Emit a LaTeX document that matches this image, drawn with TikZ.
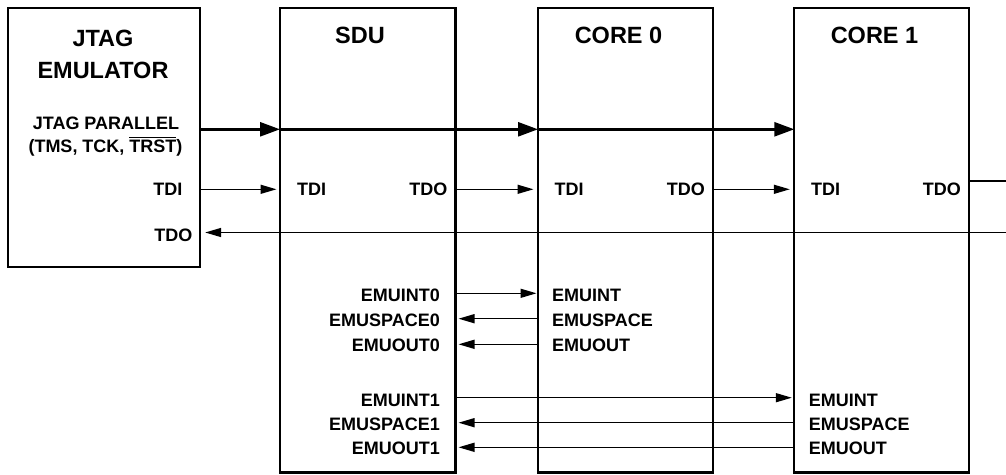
\documentclass[tikz,border=0pt]{standalone}
\usepackage{fontspec}
\setmainfont{Liberation Sans}
\usetikzlibrary{arrows.meta}
\newcommand\myov[1]{\setbox0\hbox{#1}\rlap{\raise\dimexpr\ht0+1.6pt\relax\hbox{\vrule width\wd0 height 1.3pt depth 0pt}}\box0}
\begin{document}
\begin{tikzpicture}[x=1pt,y=-1pt,
  box/.style={draw, line width=2.2pt, rectangle, outer sep=0pt, inner sep=0pt},
  lbl/.style={inner sep=0pt, font=\bfseries\fontsize{18}{21}\selectfont},
  ttl/.style={inner sep=0pt, font=\bfseries\fontsize{23.5}{28}\selectfont},
  sig/.style={line width=1.4pt, -{Triangle[length=16pt,width=9pt]}},
  par/.style={line width=2.6pt, -{Triangle[length=20pt,width=14pt]}},
  wire/.style={line width=1.4pt}]
\useasboundingbox (0,0) rectangle (1006,474);
% boxes
\node[box, minimum width=192pt, minimum height=258.4pt] (jtag) at (104.15,137.5) {};
\node[box, minimum width=175.5pt, minimum height=464.2pt] (sdu) at (367.75,240.4) {};
\node[box, minimum width=174.7pt, minimum height=464.2pt] (core0) at (625.35,240.4) {};
\node[box, minimum width=174.7pt, minimum height=464.2pt] (core1) at (881.65,240.4) {};
% levels
\coordinate (yPar) at (0,129.3);
\coordinate (yTdi) at (0,189.3);
\coordinate (yTdo1) at (0,181);
\coordinate (yBack) at (0,232.5);
\coordinate (yE0) at (0,293.3);
\coordinate (yS0) at (0,318.7);
\coordinate (yO0) at (0,344.3);
\coordinate (yE1) at (0,397.7);
\coordinate (yS1) at (0,422.7);
\coordinate (yO1) at (0,447.3);
\coordinate (rEdge) at (1006,0);
% titles
\node[ttl, anchor=base] (tJ1) at (103,46.7) {JTAG};
\node[ttl, anchor=base] (tJ2) at (103,78.3) {EMULATOR};
\node[ttl, anchor=base] (tS) at (360,43.3) {SDU};
\node[ttl, anchor=base] (tC0) at (618.5,43.3) {CORE 0};
\node[ttl, anchor=base] (tC1) at (874.5,43.3) {CORE 1};
% jtag labels
\node[lbl, anchor=base] (lp1) at (106,129.5) {JTAG PARALLEL};
\node[lbl, anchor=base] (lp2) at (105.5,152) {(TMS, TCK, \myov{TRST})};
\node[lbl, anchor=base east] (jtdi) at (182.5,195.5) {TDI};
\node[lbl, anchor=base east] (jtdo) at (192.5,241.7) {TDO};
\node[lbl, anchor=base west] (stdi) at (297,195.5) {TDI};
\node[lbl, anchor=base east] (stdo) at (447.5,195.5) {TDO};
\node[lbl, anchor=base west] (c0tdi) at (554.5,195.5) {TDI};
\node[lbl, anchor=base east] (c0tdo) at (705,195.5) {TDO};
\node[lbl, anchor=base west] (c1tdi) at (811,195.5) {TDI};
\node[lbl, anchor=base east] (c1tdo) at (961,195.5) {TDO};
% sdu emu labels
\node[lbl, anchor=base east] (se0) at (440,301) {EMUINT0};
\node[lbl, anchor=base east] (ss0) at (440,326) {EMUSPACE0};
\node[lbl, anchor=base east] (so0) at (440,351.3) {EMUOUT0};
\node[lbl, anchor=base east] (se1) at (440,406) {EMUINT1};
\node[lbl, anchor=base east] (ss1) at (440,430.3) {EMUSPACE1};
\node[lbl, anchor=base east] (so1) at (440,454) {EMUOUT1};
% core labels
\node[lbl, anchor=base west] (c0e) at (552,301) {EMUINT};
\node[lbl, anchor=base west] (c0s) at (552,326) {EMUSPACE};
\node[lbl, anchor=base west] (c0o) at (552,351.3) {EMUOUT};
\node[lbl, anchor=base west] (c1e) at (808.7,406) {EMUINT};
\node[lbl, anchor=base west] (c1s) at (808.7,430.3) {EMUSPACE};
\node[lbl, anchor=base west] (c1o) at (808.7,454) {EMUOUT};
% parallel bus
\draw[par] (jtag.east |- yPar) -- (sdu.west |- yPar);
\draw[par] (sdu.west |- yPar) -- (core0.west |- yPar);
\draw[par] (core0.west |- yPar) -- (core1.west |- yPar);
% scan chain
\draw[sig, shorten >=3.5pt] (jtag.east |- yTdi) -- (sdu.west |- yTdi);
\draw[sig, shorten >=4.5pt] (sdu.east |- yTdi) -- (core0.west |- yTdi);
\draw[sig, shorten >=4.5pt] (core0.east |- yTdi) -- (core1.west |- yTdi);
\draw[wire] (core1.east |- yTdo1) -- (rEdge |- yTdo1);
\draw[sig, shorten >=5pt] (rEdge |- yBack) -- (jtag.east |- yBack);
% emu signals
\draw[sig, shorten >=1.5pt] (sdu.east |- yE0) -- (core0.west |- yE0);
\draw[sig, shorten >=3pt] (core0.west |- yS0) -- (sdu.east |- yS0);
\draw[sig, shorten >=3pt] (core0.west |- yO0) -- (sdu.east |- yO0);
\draw[sig, shorten >=2.5pt] (sdu.east |- yE1) -- (core1.west |- yE1);
\draw[sig, shorten >=3pt] (core1.west |- yS1) -- (sdu.east |- yS1);
\draw[sig, shorten >=3pt] (core1.west |- yO1) -- (sdu.east |- yO1);
\end{tikzpicture}
\end{document}
